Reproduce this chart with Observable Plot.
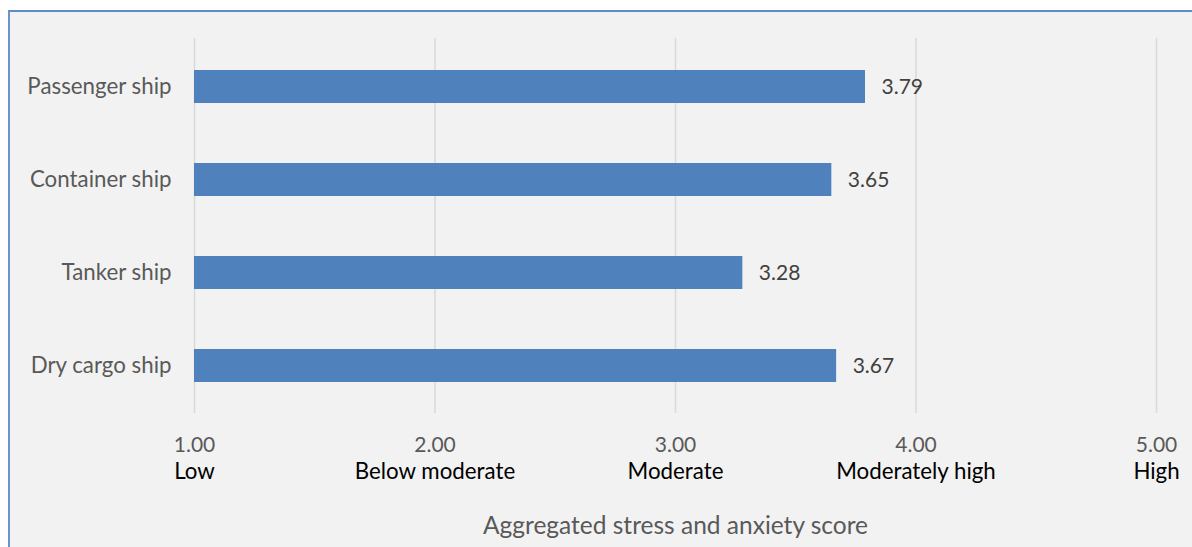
<!DOCTYPE html>
<html>
<head>
<meta charset="utf-8">
<script src="https://cdn.jsdelivr.net/npm/d3@7"></script>
<script src="https://cdn.jsdelivr.net/npm/@observablehq/plot@0.6"></script>
<style>
  html, body { margin: 0; padding: 0; background: #ffffff; }
  #frame {
    position: absolute; left: 8px; top: 10px; right: -3px; bottom: -3px;
    background: #f2f2f2; border-left: 2px solid #6a93cf; border-top: 2px solid #5f8bcb;
  }
  #chart { position: absolute; left: 0; top: 0; }
</style>
</head>
<body>
<div id="frame"></div>
<div id="chart"></div>
<script>
const ships = ["Passenger ship", "Container ship", "Tanker ship", "Dry cargo ship"];
const scores = [3.79, 3.65, 3.28, 3.67];
const tickValues = [1, 2, 3, 4, 5];
const tickLevels = ["Low", "Below moderate", "Moderate", "Moderately high", "High"];
const axisTitle = "Aggregated stress and anxiety score";

const data = ships.map((s, i) => ({ship: s, score: scores[i]}));
const ticks = tickValues.map((v, i) => ({v, level: tickLevels[i]}));
const FONT = "Lato, 'Open Sans', sans-serif";

const plot = Plot.plot({
  width: 1192,
  height: 547,
  marginLeft: 194,
  marginRight: 36,
  marginTop: 38,
  marginBottom: 134,
  style: { background: "transparent", fontFamily: FONT, fontSize: "22px", overflow: "visible" },
  x: { domain: [1, 5], axis: null },
  y: { domain: ships, paddingInner: 0.65, paddingOuter: 0.325, axis: null },
  marks: [
    Plot.ruleX(tickValues, { stroke: "#d9d9d9", strokeWidth: 1.5 }),
    Plot.barX(data, { y: "ship", x1: 1, x2: "score", fill: "#4f81bd" }),
    Plot.text(data, { y: "ship", x: "score", text: d => d.score.toFixed(2), textAnchor: "start", dx: 16, fill: "#404040", fontSize: 21 }),
    Plot.axisY({ tickSize: 0, tickPadding: 23, fill: "#595959", fontSize: 22.3, label: null }),
    Plot.text(ticks, { x: "v", text: d => d.v.toFixed(2), frameAnchor: "bottom", dy: 38, fill: "#595959", fontSize: 21 }),
    Plot.text(ticks, { x: "v", text: "level", frameAnchor: "bottom", dy: 65, fill: "#000000", fontSize: 22.3 }),
    Plot.text([axisTitle], { x: 3, text: d => d, frameAnchor: "bottom", dy: 120, fill: "#595959", fontSize: 24.5 })
  ]
});
document.getElementById("chart").appendChild(plot);
</script>
</body>
</html>
